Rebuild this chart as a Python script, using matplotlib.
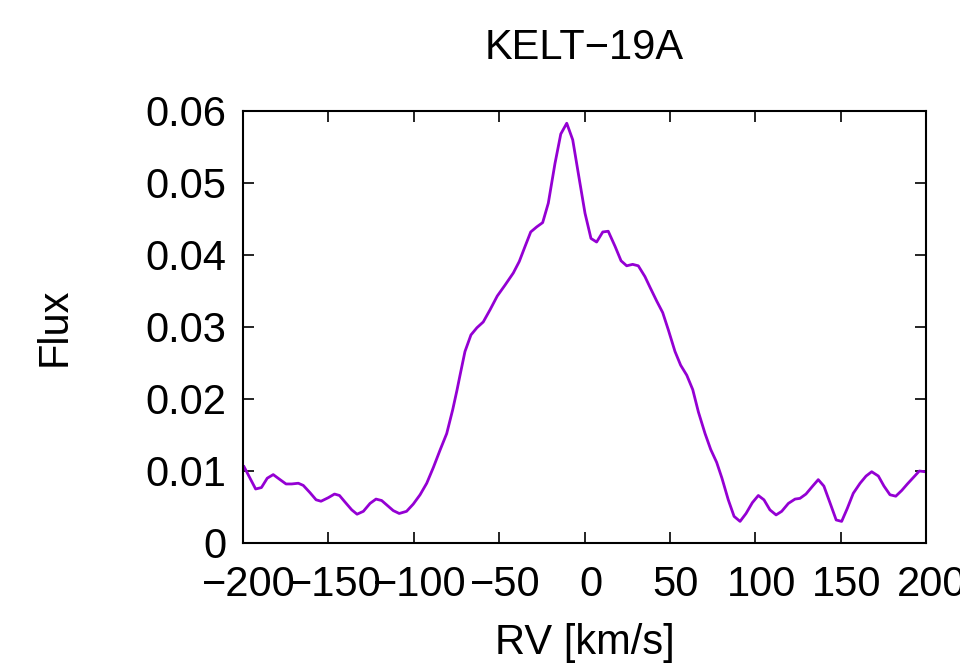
import numpy as np
import matplotlib
matplotlib.use("Agg")
import matplotlib.pyplot as plt
import matplotlib.transforms as mtransforms

rv = [-199.4, -192.6, -189.2, -185.8, -182.3, -178.3, -174.8, -171.5, -167.6, -164.7,
      -160.8, -157.2, -154.3, -150.0, -146.4, -143.5, -140.3, -136.3, -133.2, -129.5,
      -125.6, -122.1, -118.8, -115.4, -112.0, -108.5, -104.2, -100.3, -96.3, -92.4,
      -88.5, -84.6, -80.7, -77.2, -74.7, -72.9, -70.0, -66.5, -63.0, -59.3,
      -55.3, -51.1, -46.6, -41.7, -38.2, -34.8, -31.5, -28.0, -24.5, -21.2,
      -17.3, -13.9, -10.4, -6.9, -3.6, 0.3, 3.8, 7.1, 10.7, 13.9,
      17.9, 21.4, 24.7, 28.2, 31.5, 35.4, 38.4, 42.3, 45.8, 49.1,
      53.0, 56.3, 59.9, 63.4, 66.7, 70.6, 73.9, 77.4, 80.5, 84.2,
      87.6, 91.1, 94.6, 98.3, 101.8, 105.1, 108.6, 112.2, 115.5, 119.4,
      123.3, 126.2, 129.7, 133.6, 136.9, 140.2, 143.9, 147.4, 150.6, 153.9,
      157.4, 161.4, 164.9, 168.2, 172.1, 175.4, 178.9, 182.3, 185.8, 189.1,
      192.6, 196.1, 199.4]
flux = [0.0106, 0.0075, 0.0077, 0.0090, 0.0095, 0.0088, 0.0082, 0.0082, 0.0083, 0.0080,
        0.0070, 0.0060, 0.0058, 0.0063, 0.0068, 0.0066, 0.0057, 0.0046, 0.0040, 0.0044,
        0.0055, 0.0061, 0.0059, 0.0052, 0.0045, 0.0041, 0.0044, 0.0054, 0.0067, 0.0083,
        0.0105, 0.0129, 0.0152, 0.0185, 0.0212, 0.0233, 0.0266, 0.0289, 0.0299, 0.0307,
        0.0324, 0.0343, 0.0358, 0.0375, 0.0391, 0.0412, 0.0432, 0.0439, 0.0445, 0.0472,
        0.0527, 0.0568, 0.0583, 0.0560, 0.0513, 0.0458, 0.0423, 0.0418, 0.0432, 0.0433,
        0.0412, 0.0392, 0.0385, 0.0387, 0.0385, 0.0370, 0.0355, 0.0336, 0.0320, 0.0296,
        0.0266, 0.0247, 0.0233, 0.0213, 0.0182, 0.0152, 0.0130, 0.0112, 0.0090, 0.0060,
        0.0037, 0.0030, 0.0041, 0.0056, 0.0066, 0.0060, 0.0046, 0.0039, 0.0044, 0.0055,
        0.0061, 0.0062, 0.0068, 0.0079, 0.0088, 0.0079, 0.0055, 0.0032, 0.0030, 0.0048,
        0.0069, 0.0083, 0.0093, 0.0099, 0.0093, 0.0079, 0.0067, 0.0065, 0.0073, 0.0082,
        0.0091, 0.0100, 0.0099]

xticks = [-200, -150, -100, -50, 0, 50, 100, 150, 200]
xticklabels = ["\u2212200", "\u2212150", "\u2212100", "\u221250", "0", "50", "100", "150", "200"]
yticks = [0, 0.01, 0.02, 0.03, 0.04, 0.05, 0.06]
yticklabels = ["0", "0.01", "0.02", "0.03", "0.04", "0.05", "0.06"]

plt.rcParams['font.family'] = ['Liberation Sans', 'DejaVu Sans']

fig = plt.figure(figsize=(9.6, 6.71), dpi=100)
ax = fig.add_axes([243 / 960, 1 - 543 / 671, (926 - 243) / 960, (543 - 111) / 671])

ax.plot(rv, flux, color='#9400d3', linewidth=2.0)

ax.set_xlim(-200, 200)
ax.set_ylim(0, 0.06)
ax.set_xticks(xticks)
ax.set_xticklabels(xticklabels)
ax.set_yticks(yticks)
ax.set_yticklabels(yticklabels)
ax.tick_params(direction='in', length=8, width=1.2, labelsize=30,
               top=True, right=True, pad=12, colors='black')
ax.tick_params(axis='x', pad=16)
for s in ax.spines.values():
    s.set_linewidth(1.5)

# desplazar un poco las etiquetas del eje x hacia la derecha, como en gnuplot
desplazamiento = mtransforms.ScaledTranslation(6 / 100, 0, fig.dpi_scale_trans)
for etiqueta in ax.get_xticklabels():
    etiqueta.set_transform(etiqueta.get_transform() + desplazamiento)

fig.text(584.5 / 960, 1 - 48 / 671, "KELT\u221219A", fontsize=30, ha='center', va='center')
fig.text(584.5 / 960, 1 - 643 / 671, "RV [km/s]", fontsize=30, ha='center', va='center')
fig.text(55 / 960, 1 - 327 / 671, "Flux", fontsize=30, ha='center', va='center', rotation=90)

fig.savefig("out.png", dpi=100)
